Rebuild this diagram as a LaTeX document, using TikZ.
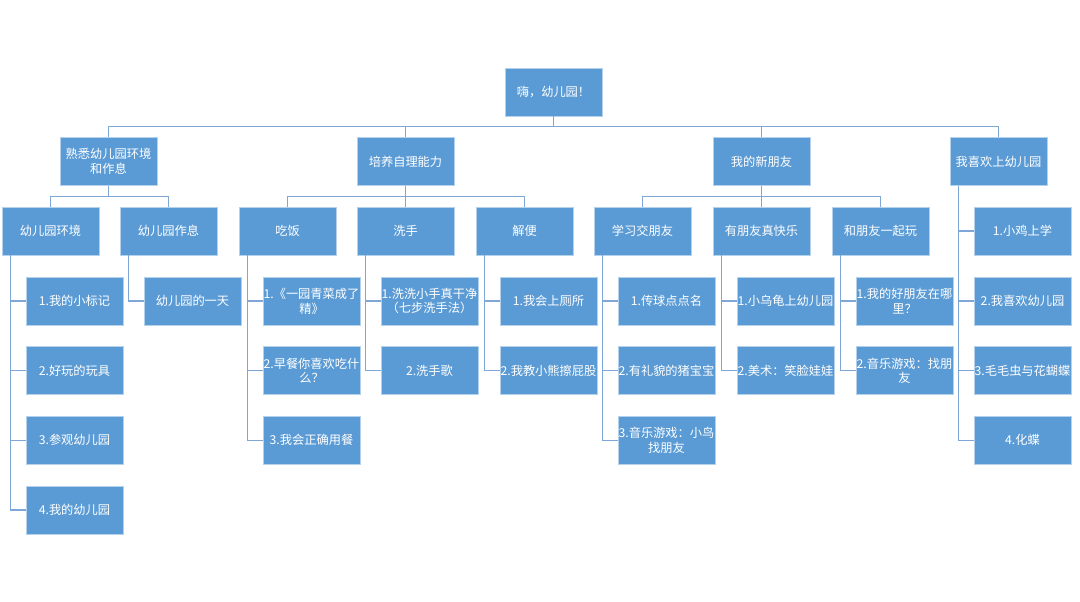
\documentclass[tikz,border=0pt]{standalone}
\usepackage{fontspec}
\newfontfamily\cjk{Noto Sans CJK SC}
\usepackage{xcolor}
\usepackage{tikz}
\definecolor{boxblue}{HTML}{5B9BD5}
\definecolor{linkblue}{HTML}{7EA6D6}

\begin{document}
\begin{tikzpicture}[
                x=0.025cm, y=-0.025cm,
                box/.style={
                    rectangle,
                    fill=boxblue,
                    draw=white!55!boxblue,
                    line width=0.4pt,
                    minimum width=2.425cm,
                    minimum height=1.2cm,
                    inner sep=0pt,
                    align=center,
                    text=white,
                    font=\cjk\fontsize{8.7pt}{10.5pt}\selectfont
                },
                link/.style={draw=linkblue, line width=0.9pt},
                bus/.style={to path={(\tikztostart) -- ++(0,10.5) -| (\tikztotarget)}}
            ]
                \useasboundingbox (0,0) rectangle (1080,602);

                \node[box] (root) at (553.5,92) {嗨，幼儿园！};

                \node[box] (envrest) at (108.5,161.5) {熟悉幼儿园环境\\和作息};
                \node[box] (selfcare) at (405.5,161.5) {培养自理能力};
                \node[box] (newfriend) at (761.5,161.5) {我的新朋友};
                \node[box] (likekg) at (998.5,161.5) {我喜欢上幼儿园};

                \node[box] (env) at (50.5,231) {幼儿园环境};
                \node[box] (rest) at (168.5,231) {幼儿园作息};
                \node[box] (eat) at (287.5,231) {吃饭};
                \node[box] (wash) at (405.5,231) {洗手};
                \node[box] (toilet) at (524.5,231) {解便};
                \node[box] (learn) at (642.5,231) {学习交朋友};
                \node[box] (happy) at (761.5,231) {有朋友真快乐};
                \node[box] (play) at (880.5,231) {和朋友一起玩};
                \node[box] (like1) at (1022.5,231) {1.小鸡上学};

                \node[box] (env1) at (74.5,301) {1.我的小标记};
                \node[box] (env2) at (74.5,370.7) {2.好玩的玩具};
                \node[box] (env3) at (74.5,440.3) {3.参观幼儿园};
                \node[box] (env4) at (74.5,510) {4.我的幼儿园};

                \node[box] (rest1) at (192.5,301) {幼儿园的一天};

                \node[box] (eat1) at (311.5,301) {1.《一园青菜成了\\精》};
                \node[box] (eat2) at (311.5,370.7) {2.早餐你喜欢吃什\\么？};
                \node[box] (eat3) at (311.5,440.3) {3.我会正确用餐};

                \node[box] (wash1) at (429.5,301) {1.洗洗小手真干净\\（七步洗手法）};
                \node[box] (wash2) at (429.5,370.7) {2.洗手歌};

                \node[box] (toilet1) at (548.5,301) {1.我会上厕所};
                \node[box] (toilet2) at (548.5,370.7) {2.我教小熊擦屁股};

                \node[box] (learn1) at (666.5,301) {1.传球点点名};
                \node[box] (learn2) at (666.5,370.7) {2.有礼貌的猪宝宝};
                \node[box] (learn3) at (666.5,440.3) {3.音乐游戏：小鸟\\找朋友};

                \node[box] (happy1) at (785.5,301) {1.小乌龟上幼儿园};
                \node[box] (happy2) at (785.5,370.7) {2.美术：笑脸娃娃};

                \node[box] (play1) at (904.5,301) {1.我的好朋友在哪\\里？};
                \node[box] (play2) at (904.5,370.7) {2.音乐游戏：找朋\\友};

                \node[box] (like2) at (1022.5,301) {2.我喜欢幼儿园};
                \node[box] (like3) at (1022.5,370.7) {3.毛毛虫与花蝴蝶};
                \node[box] (like4) at (1022.5,440.3) {4.化蝶};

                \draw[link] (root.south) to[bus] (envrest.north);
                \draw[link] (root.south) to[bus] (selfcare.north);
                \draw[link] (root.south) to[bus] (newfriend.north);
                \draw[link] (root.south) to[bus] (likekg.north);

                \draw[link] (envrest.south) to[bus] (env.north);
                \draw[link] (envrest.south) to[bus] (rest.north);
                \draw[link] (selfcare.south) to[bus] (eat.north);
                \draw[link] (selfcare.south) to[bus] (wash.north);
                \draw[link] (selfcare.south) to[bus] (toilet.north);
                \draw[link] (newfriend.south) to[bus] (learn.north);
                \draw[link] (newfriend.south) to[bus] (happy.north);
                \draw[link] (newfriend.south) to[bus] (play.north);

                \draw[link] ([xshift=0.225cm]likekg.south west) |- (like1.west);
                \draw[link] ([xshift=0.225cm]likekg.south west) |- (like2.west);
                \draw[link] ([xshift=0.225cm]likekg.south west) |- (like3.west);
                \draw[link] ([xshift=0.225cm]likekg.south west) |- (like4.west);

                \draw[link] ([xshift=0.225cm]env.south west) |- (env1.west);
                \draw[link] ([xshift=0.225cm]env.south west) |- (env2.west);
                \draw[link] ([xshift=0.225cm]env.south west) |- (env3.west);
                \draw[link] ([xshift=0.225cm]env.south west) |- (env4.west);

                \draw[link] ([xshift=0.225cm]rest.south west) |- (rest1.west);

                \draw[link] ([xshift=0.225cm]eat.south west) |- (eat1.west);
                \draw[link] ([xshift=0.225cm]eat.south west) |- (eat2.west);
                \draw[link] ([xshift=0.225cm]eat.south west) |- (eat3.west);

                \draw[link] ([xshift=0.225cm]wash.south west) |- (wash1.west);
                \draw[link] ([xshift=0.225cm]wash.south west) |- (wash2.west);

                \draw[link] ([xshift=0.225cm]toilet.south west) |- (toilet1.west);
                \draw[link] ([xshift=0.225cm]toilet.south west) |- (toilet2.west);

                \draw[link] ([xshift=0.225cm]learn.south west) |- (learn1.west);
                \draw[link] ([xshift=0.225cm]learn.south west) |- (learn2.west);
                \draw[link] ([xshift=0.225cm]learn.south west) |- (learn3.west);

                \draw[link] ([xshift=0.225cm]happy.south west) |- (happy1.west);
                \draw[link] ([xshift=0.225cm]happy.south west) |- (happy2.west);

                \draw[link] ([xshift=0.225cm]play.south west) |- (play1.west);
                \draw[link] ([xshift=0.225cm]play.south west) |- (play2.west);

            \end{tikzpicture}
\end{document}
